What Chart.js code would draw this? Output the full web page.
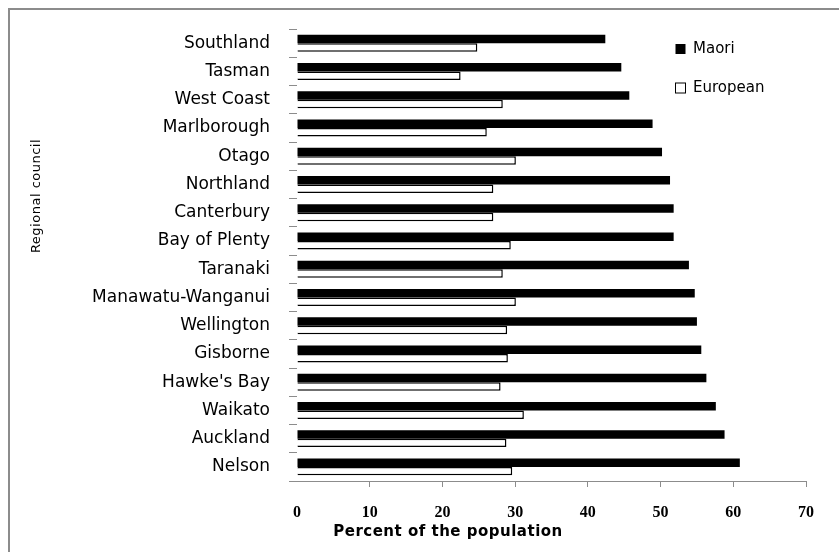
<!DOCTYPE html>
<html>
<head>
<meta charset="utf-8">
<script src="https://cdn.jsdelivr.net/npm/chart.js@4/dist/chart.umd.min.js"></script>
<style>
  html, body { margin: 0; padding: 0; background: #fff; overflow: hidden; }
  #wrap { position: relative; width: 839px; height: 552px; }
  #frame { position: absolute; left: 8px; top: 8px; right: 0; bottom: 0;
           border-left: 2px solid #8c8c8c; border-top: 2px solid #8c8c8c; }
  canvas { position: absolute; left: 0; top: 0; }
</style>
</head>
<body>
<div id="wrap">
  <div id="frame"></div>
  <canvas id="c" width="839" height="552"></canvas>
</div>
<script>
// Regional councils, listed top to bottom
const regions = [
  "Southland", "Tasman", "West Coast", "Marlborough", "Otago", "Northland",
  "Canterbury", "Bay of Plenty", "Taranaki", "Manawatu-Wanganui", "Wellington",
  "Gisborne", "Hawke's Bay", "Waikato", "Auckland", "Nelson"
];
// Percent of the population, by ethnic group
const maori = [42.4, 44.6, 45.7, 48.9, 50.2, 51.3, 51.8, 51.8, 53.9, 54.7, 55.0, 55.6, 56.3, 57.6, 58.8, 60.9];
const european = [24.8, 22.5, 28.3, 26.1, 30.1, 27.0, 27.0, 29.4, 28.3, 30.1, 28.9, 29.0, 28.0, 31.2, 28.8, 29.6];
const seriesNames = ["Maori", "European"];
const xTitle = "Percent of the population";
const yTitle = "Regional council";

const AXIS_GREY = '#8c8c8c';

// Axis titles and the legend box, drawn on top of the chart
const decor = {
  id: 'decor',
  afterDraw(chart) {
    const { ctx, chartArea } = chart;
    ctx.save();
    ctx.fillStyle = '#000';
    ctx.textBaseline = 'middle';

    // x-axis title
    ctx.font = 'bold 15px "DejaVu Sans"';
    ctx.textAlign = 'center';
    try { ctx.letterSpacing = '0.5px'; } catch (e) {}
    ctx.fillText(xTitle, chartArea.left + 151, 532);

    // y-axis title, rotated
    ctx.font = '13px "DejaVu Sans"';
    try { ctx.letterSpacing = '0.5px'; } catch (e) {}
    ctx.save();
    ctx.translate(37, 196);
    ctx.rotate(-Math.PI / 2);
    ctx.fillText(yTitle, 0, 0);
    ctx.restore();

    // legend
    try { ctx.letterSpacing = '0px'; } catch (e) {}
    ctx.font = '15px "DejaVu Sans"';
    ctx.textAlign = 'left';
    const rows = [49, 88];
    chart.data.datasets.forEach((ds, i) => {
      const y = rows[i];
      ctx.fillStyle = ds.backgroundColor;
      ctx.fillRect(675.5, y - 5, 10, 10);
      if (ds.borderWidth) {
        ctx.strokeStyle = ds.borderColor;
        ctx.lineWidth = 1;
        ctx.strokeRect(675.5, y - 5, 10, 10);
      }
      ctx.fillStyle = '#000';
      ctx.fillText(ds.label, 693, y);
    });
    ctx.restore();
  }
};

new Chart(document.getElementById('c'), {
  type: 'bar',
  data: {
    labels: regions,
    datasets: [
      { label: seriesNames[0], data: maori, backgroundColor: '#000000', borderWidth: 0 },
      { label: seriesNames[1], data: european, backgroundColor: '#ffffff', borderColor: '#000000', borderWidth: 1.5 }
    ]
  },
  options: {
    indexAxis: 'y',
    responsive: false,
    animation: false,
    categoryPercentage: 0.6,
    barPercentage: 1.0,
    layout: { padding: { top: 26, right: 33, left: 0, bottom: 0 } },
    plugins: { legend: { display: false }, tooltip: { enabled: false } },
    scales: {
      x: {
        min: 0, max: 70,
        ticks: { stepSize: 10, color: '#000', padding: 16,
                 font: { family: 'Liberation Serif', size: 16, weight: 'bold' } },
        grid: { drawOnChartArea: false, tickLength: 6,
                color: c => c.index === 0 ? 'rgba(0,0,0,0)' : AXIS_GREY },
        border: { display: true, color: AXIS_GREY, width: 1 },
        afterFit: s => { s.height = 71; }
      },
      y: {
        ticks: { color: '#000', padding: 19, autoSkip: false,
                 font: { family: 'DejaVu Sans', size: 17 } },
        grid: { drawOnChartArea: false, tickLength: 8, color: AXIS_GREY, offset: true },
        border: { display: false },
        afterFit: s => { s.width = 297; }
      }
    }
  },
  plugins: [decor]
});
</script>
</body>
</html>
